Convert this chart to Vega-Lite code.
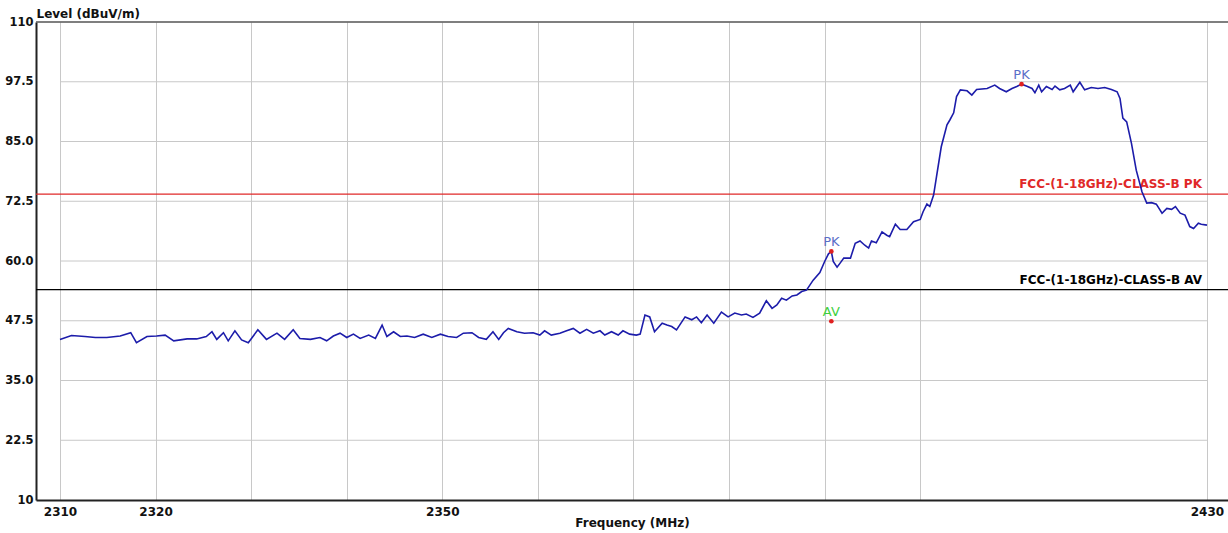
{
  "$schema": "https://vega.github.io/schema/vega-lite/v6.json",
  "width": 1192,
  "height": 478,
  "autosize": {"type": "none"},
  "padding": {"left": 36, "top": 22, "right": 0, "bottom": 33},
  "background": "white",
  "config": {"view": {"stroke": null}, "font": "DejaVu Sans"},
  "datasets": {
    "trace": [
      {"f":2310.0,"level":43.6},{"f":2311.2,"level":44.4},{"f":2312.6,"level":44.2},{"f":2313.7,"level":44.0},{"f":2314.9,"level":44.0},
      {"f":2316.3,"level":44.3},{"f":2317.4,"level":45.0},{"f":2318.0,"level":42.9},{"f":2319.1,"level":44.2},{"f":2320.1,"level":44.3},
      {"f":2321.0,"level":44.5},{"f":2321.9,"level":43.3},{"f":2323.3,"level":43.7},{"f":2324.3,"level":43.7},{"f":2325.3,"level":44.2},
      {"f":2325.9,"level":45.2},{"f":2326.4,"level":43.6},{"f":2327.1,"level":45.0},{"f":2327.6,"level":43.3},{"f":2328.3,"level":45.4},
      {"f":2329.0,"level":43.5},{"f":2329.7,"level":42.9},{"f":2330.7,"level":45.6},{"f":2331.6,"level":43.6},{"f":2332.7,"level":44.9},
      {"f":2333.5,"level":43.6},{"f":2334.4,"level":45.6},{"f":2335.1,"level":43.8},{"f":2336.2,"level":43.6},{"f":2337.2,"level":44.0},
      {"f":2337.9,"level":43.3},{"f":2338.6,"level":44.3},{"f":2339.3,"level":44.9},{"f":2340.0,"level":44.0},{"f":2340.7,"level":44.7},
      {"f":2341.4,"level":43.8},{"f":2342.3,"level":44.5},{"f":2343.0,"level":43.8},{"f":2343.7,"level":46.6},{"f":2344.2,"level":44.2},
      {"f":2344.9,"level":45.2},{"f":2345.6,"level":44.2},{"f":2346.3,"level":44.3},{"f":2347.1,"level":44.0},{"f":2348.0,"level":44.7},
      {"f":2348.9,"level":44.0},{"f":2349.8,"level":44.7},{"f":2350.6,"level":44.2},{"f":2351.5,"level":44.0},{"f":2352.2,"level":44.9},
      {"f":2353.1,"level":45.0},{"f":2353.8,"level":44.0},{"f":2354.6,"level":43.6},{"f":2355.3,"level":45.2},{"f":2355.9,"level":43.6},
      {"f":2356.4,"level":45.0},{"f":2356.9,"level":45.9},{"f":2357.8,"level":45.2},{"f":2358.6,"level":44.9},{"f":2359.5,"level":45.0},
      {"f":2360.2,"level":44.5},{"f":2360.7,"level":45.4},{"f":2361.4,"level":44.5},{"f":2362.3,"level":44.9},{"f":2363.0,"level":45.4},
      {"f":2363.7,"level":45.9},{"f":2364.4,"level":44.9},{"f":2365.1,"level":45.7},{"f":2365.8,"level":44.9},{"f":2366.5,"level":45.4},
      {"f":2367.0,"level":44.5},{"f":2367.7,"level":45.2},{"f":2368.4,"level":44.5},{"f":2368.9,"level":45.4},{"f":2369.6,"level":44.7},
      {"f":2370.3,"level":44.5},{"f":2370.7,"level":44.7},{"f":2371.2,"level":48.7},{"f":2371.7,"level":48.3},{"f":2372.2,"level":45.2},
      {"f":2373.0,"level":47.0},{"f":2373.5,"level":46.6},{"f":2374.0,"level":46.3},{"f":2374.5,"level":45.6},{"f":2375.4,"level":48.3},
      {"f":2376.1,"level":47.7},{"f":2376.6,"level":48.3},{"f":2377.1,"level":47.1},{"f":2377.7,"level":48.7},{"f":2378.4,"level":47.0},
      {"f":2379.2,"level":49.3},{"f":2379.9,"level":48.3},{"f":2380.6,"level":49.1},{"f":2381.3,"level":48.7},{"f":2381.8,"level":48.9},
      {"f":2382.5,"level":48.2},{"f":2383.2,"level":49.1},{"f":2383.9,"level":51.7},{"f":2384.5,"level":50.1},{"f":2385.0,"level":50.8},
      {"f":2385.5,"level":52.2},{"f":2386.0,"level":51.8},{"f":2386.6,"level":52.7},{"f":2387.1,"level":52.9},{"f":2387.6,"level":53.6},
      {"f":2388.1,"level":53.9},{"f":2388.8,"level":56.0},{"f":2389.5,"level":57.6},{"f":2390.0,"level":59.9},{"f":2390.4,"level":61.5},
      {"f":2390.7,"level":62.0},{"f":2390.9,"level":59.9},{"f":2391.3,"level":58.7},{"f":2391.6,"level":59.5},{"f":2392.0,"level":60.6},
      {"f":2392.7,"level":60.6},{"f":2393.2,"level":63.7},{"f":2393.7,"level":64.2},{"f":2394.2,"level":63.3},{"f":2394.6,"level":62.7},
      {"f":2394.9,"level":64.2},{"f":2395.4,"level":63.8},{"f":2396.0,"level":66.1},{"f":2396.5,"level":65.4},{"f":2396.8,"level":65.1},
      {"f":2397.4,"level":67.7},{"f":2397.9,"level":66.6},{"f":2398.6,"level":66.6},{"f":2399.3,"level":68.2},{"f":2400.0,"level":68.7},
      {"f":2400.3,"level":70.3},{"f":2400.7,"level":71.9},{"f":2401.0,"level":71.4},{"f":2401.4,"level":73.8},{"f":2401.7,"level":77.6},
      {"f":2402.2,"level":83.9},{"f":2402.8,"level":88.5},{"f":2403.1,"level":89.5},{"f":2403.5,"level":91.0},{"f":2403.8,"level":94.4},
      {"f":2404.2,"level":95.8},{"f":2404.9,"level":95.6},{"f":2405.4,"level":94.7},{"f":2405.9,"level":95.9},{"f":2407.0,"level":96.1},
      {"f":2407.8,"level":96.8},{"f":2408.3,"level":96.1},{"f":2409.0,"level":95.4},{"f":2409.6,"level":96.1},{"f":2410.1,"level":96.5},
      {"f":2410.6,"level":97.0},{"f":2411.1,"level":96.6},{"f":2411.7,"level":96.1},{"f":2412.0,"level":95.2},{"f":2412.4,"level":96.8},
      {"f":2412.7,"level":95.4},{"f":2413.2,"level":96.5},{"f":2413.8,"level":95.9},{"f":2414.1,"level":96.6},{"f":2414.6,"level":95.8},
      {"f":2415.1,"level":96.1},{"f":2415.7,"level":96.8},{"f":2416.0,"level":95.4},{"f":2416.7,"level":97.4},{"f":2417.2,"level":95.8},
      {"f":2417.9,"level":96.3},{"f":2418.6,"level":96.1},{"f":2419.3,"level":96.3},{"f":2420.0,"level":95.9},{"f":2420.6,"level":95.4},
      {"f":2420.9,"level":94.0},{"f":2421.2,"level":89.9},{"f":2421.6,"level":89.1},{"f":2422.1,"level":84.6},{"f":2422.6,"level":79.0},
      {"f":2423.2,"level":74.5},{"f":2423.7,"level":72.1},{"f":2424.2,"level":72.2},{"f":2424.7,"level":71.9},{"f":2425.3,"level":70.0},
      {"f":2425.8,"level":71.0},{"f":2426.3,"level":70.8},{"f":2426.7,"level":71.4},{"f":2427.2,"level":70.0},{"f":2427.7,"level":69.6},
      {"f":2428.2,"level":67.2},{"f":2428.6,"level":66.8},{"f":2429.1,"level":67.9},{"f":2429.4,"level":67.7},{"f":2430.0,"level":67.5}
    ],
    "limits": [
      {"name": "FCC-(1-18GHz)-CLASS-B PK", "level": 74},
      {"name": "FCC-(1-18GHz)-CLASS-B AV", "level": 54}
    ],
    "markers": [
      {"f": 2390.7, "level": 62.0, "det": "PK"},
      {"f": 2410.6, "level": 97.0, "det": "PK"},
      {"f": 2390.7, "level": 47.4, "det": "AV"}
    ],
    "hgrid": [
      {"level": 22.5}, {"level": 35}, {"level": 47.5}, {"level": 60}, {"level": 72.5}, {"level": 85}, {"level": 97.5}
    ]
  },
  "layer": [
    {
      "data": {"name": "hgrid"},
      "mark": {"type": "rule", "color": "#c8c8c8", "strokeWidth": 1},
      "encoding": {
        "y": {"field": "level", "type": "quantitative", "scale": {"domain": [10, 110], "nice": false, "zero": false}},
        "x": {"datum": 2310, "type": "quantitative", "scale": {"domain": [2307.49, 2432.2], "nice": false, "zero": false}},
        "x2": {"datum": 2430}
      }
    },
    {
      "data": {"name": "limits"},
      "mark": {"type": "rule", "strokeWidth": 1.2},
      "encoding": {
        "y": {"field": "level", "type": "quantitative"},
        "x": {"value": 0},
        "x2": {"datum": 2430},
        "color": {"field": "name", "type": "nominal",
          "scale": {"domain": ["FCC-(1-18GHz)-CLASS-B PK", "FCC-(1-18GHz)-CLASS-B AV", "PK", "AV"], "range": ["#e02828", "#000000", "#5a6ec8", "#3ed03e"]},
          "legend": null}
      }
    },
    {
      "data": {"name": "limits"},
      "mark": {"type": "text", "align": "right", "baseline": "alphabetic", "dx": -5, "dy": -6, "font": "DejaVu Sans", "fontSize": 12, "fontWeight": "bold"},
      "encoding": {
        "y": {"field": "level", "type": "quantitative"},
        "x": {"datum": 2430, "type": "quantitative"},
        "text": {"field": "name"},
        "color": {"field": "name", "type": "nominal", "legend": null}
      }
    },
    {
      "data": {"values": [{}]},
      "mark": {"type": "rule", "color": "#555555", "strokeWidth": 1.5},
      "encoding": {"y": {"datum": 110, "type": "quantitative"}}
    },
    {
      "data": {"name": "trace"},
      "mark": {"type": "line", "color": "#1c1caa", "strokeWidth": 1.6},
      "encoding": {
        "x": {
          "field": "f", "type": "quantitative",
          "scale": {"domain": [2307.49, 2432.2], "nice": false, "zero": false},
          "axis": {
            "title": "Frequency (MHz)",
            "values": [2310, 2320, 2330, 2340, 2350, 2360, 2370, 2380, 2390, 2400, 2430],
            "format": "d",
            "labelExpr": "(datum.value==2310||datum.value==2320||datum.value==2350||datum.value==2430)?datum.label:''",
            "grid": true, "gridColor": "#c8c8c8", "gridWidth": 1,
            "ticks": false,
            "domainColor": "#222222", "domainWidth": 2,
            "labelFont": "DejaVu Sans", "labelFontSize": 12, "labelFontWeight": "bold", "labelColor": "#111111",
            "labelPadding": 6, "labelFlush": false, "labelOverlap": false,
            "titleFont": "DejaVu Sans", "titleFontSize": 12, "titleFontWeight": "bold", "titleColor": "#111111",
            "titlePadding": 0
          }
        },
        "y": {
          "field": "level", "type": "quantitative",
          "scale": {"domain": [10, 110], "nice": false, "zero": false},
          "axis": {
            "title": "Level (dBuV/m)",
            "values": [10, 22.5, 35, 47.5, 60, 72.5, 85, 97.5, 110],
            "labelExpr": "(datum.value==10||datum.value==110)?format(datum.value,'d'):format(datum.value,'.1f')",
            "grid": false, "ticks": false,
            "domainColor": "#222222", "domainWidth": 2,
            "labelFont": "DejaVu Sans", "labelFontSize": 11.5, "labelFontWeight": "bold", "labelColor": "#111111",
            "labelPadding": 3, "labelOverlap": false, "labelFlush": false,
            "titleFont": "DejaVu Sans", "titleFontSize": 12, "titleFontWeight": "bold", "titleColor": "#111111",
            "titleAngle": 0, "titleX": 0, "titleY": -5, "titleAlign": "left", "titleBaseline": "alphabetic"
          }
        }
      }
    },
    {
      "data": {"name": "markers"},
      "mark": {"type": "point", "filled": true, "color": "#e02020", "size": 22, "opacity": 1},
      "encoding": {
        "x": {"field": "f", "type": "quantitative"},
        "y": {"field": "level", "type": "quantitative"}
      }
    },
    {
      "data": {"name": "markers"},
      "mark": {"type": "text", "baseline": "bottom", "dy": -2, "font": "DejaVu Sans", "fontSize": 13},
      "encoding": {
        "x": {"field": "f", "type": "quantitative"},
        "y": {"field": "level", "type": "quantitative"},
        "text": {"field": "det"},
        "color": {"field": "det", "type": "nominal", "legend": null}
      }
    }
  ]
}
